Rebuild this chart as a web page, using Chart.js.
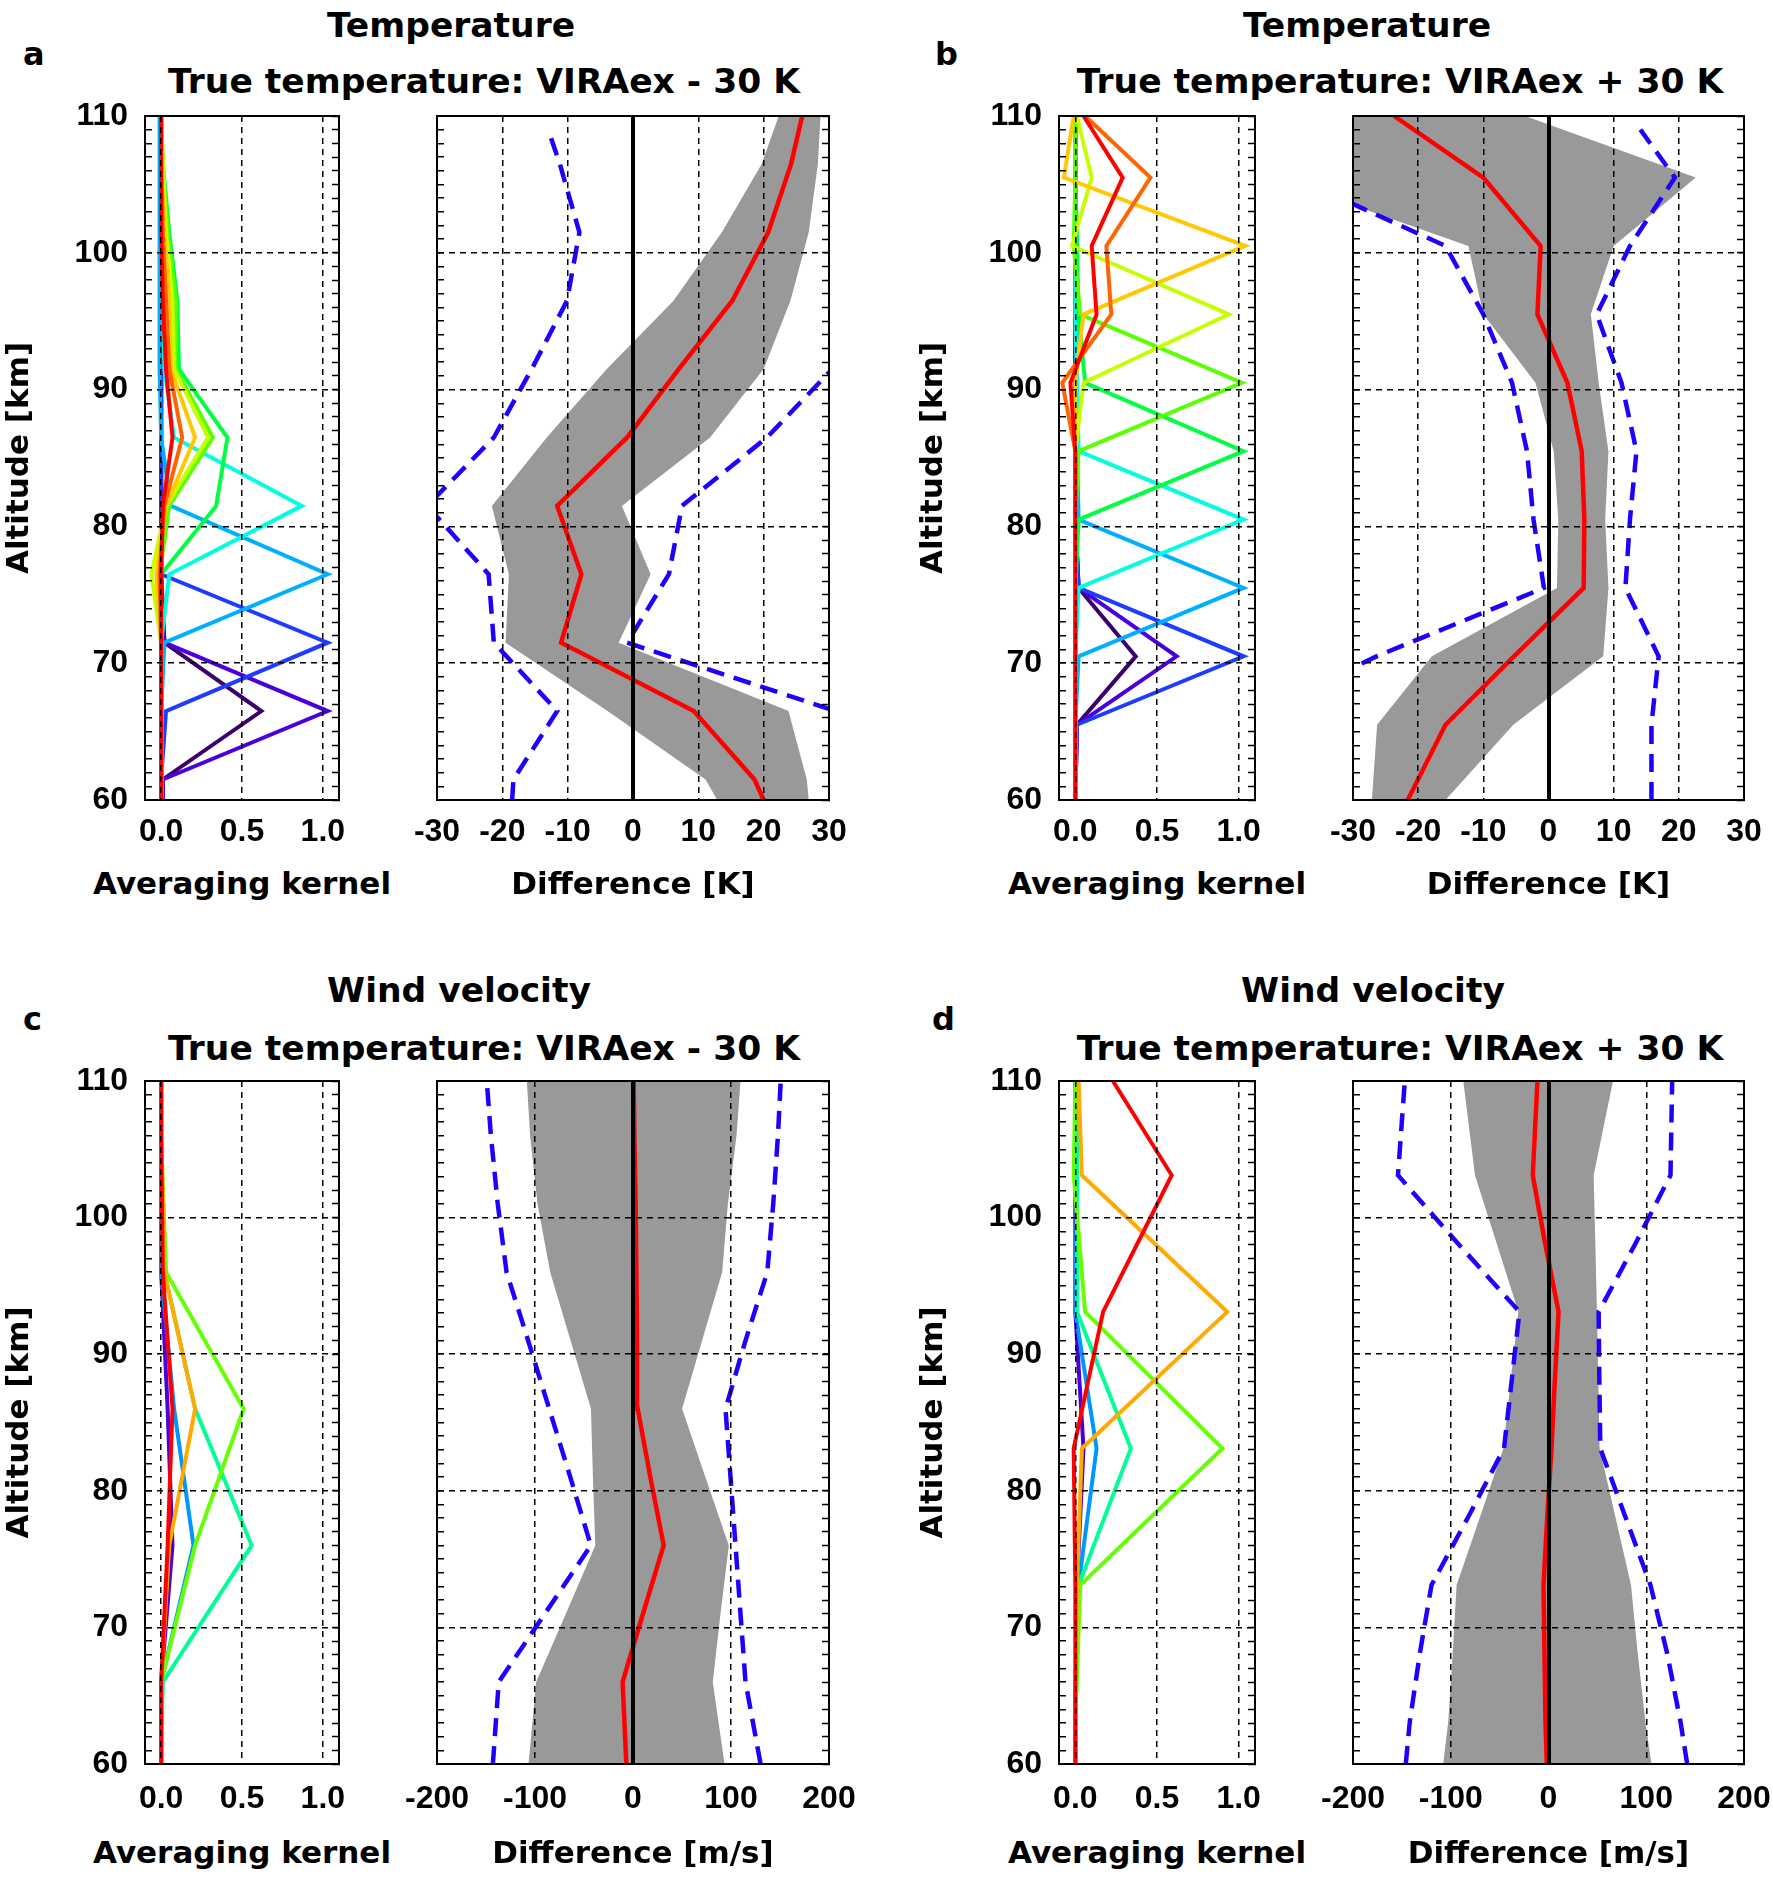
<!DOCTYPE html>
<html>
<head>
<meta charset="utf-8">
<script src="https://cdn.jsdelivr.net/npm/chart.js@4.4.1/dist/chart.umd.min.js"></script>
<style>
  html, body { margin: 0; padding: 0; background: #fff; }
  #page { position: relative; width: 1773px; height: 1878px; overflow: hidden; background: #fff; }
  canvas { position: absolute; }
  .ttl { position: absolute; font-family: 'DejaVu Sans', sans-serif; font-weight: bold; font-size: 34.5px;
         line-height: 1; white-space: nowrap; color: #000; transform: translateX(-50%); }
  .ax { position: absolute; font-family: 'DejaVu Sans', sans-serif; font-weight: bold; font-size: 31px;
        line-height: 1; white-space: nowrap; color: #000; transform: translateX(-50%); }
  .lbl { position: absolute; font-family: 'DejaVu Sans', sans-serif; font-weight: bold; font-size: 32px;
         line-height: 1; color: #000; }
</style>
</head>
<body>
<div id="page">
  <div class="lbl" style="left:23px;top:38px">a</div>
  <div class="lbl" style="left:935px;top:38px">b</div>
  <div class="lbl" style="left:23px;top:1003px">c</div>
  <div class="lbl" style="left:932px;top:1003px">d</div>
  <div class="ttl" style="left:451px;top:8px">Temperature</div>
  <div class="ttl" style="left:484px;top:64px">True temperature: VIRAex - 30 K</div>
  <div class="ttl" style="left:1367px;top:8px">Temperature</div>
  <div class="ttl" style="left:1400px;top:64px">True temperature: VIRAex + 30 K</div>
  <div class="ttl" style="left:459px;top:973px">Wind velocity</div>
  <div class="ttl" style="left:484px;top:1031px">True temperature: VIRAex - 30 K</div>
  <div class="ttl" style="left:1373px;top:973px">Wind velocity</div>
  <div class="ttl" style="left:1400px;top:1031px">True temperature: VIRAex + 30 K</div>
  <div class="ax" style="left:242px;top:868px">Averaging kernel</div>
  <div class="ax" style="left:1157px;top:868px">Averaging kernel</div>
  <div class="ax" style="left:242px;top:1837px">Averaging kernel</div>
  <div class="ax" style="left:1157px;top:1837px">Averaging kernel</div>
</div>
<script>
// ---- tick labels ----
const altTicks = [60, 70, 80, 90, 100, 110];
const kernelTicks = [0, 0.5, 1.0];
const tempTicks = [-30, -20, -10, 0, 10, 20, 30];
const windTicks = [-200, -100, 0, 100, 200];

// ---- kernel colours (low altitude -> high altitude) ----
const tempKernelColors = ['#3c006c', '#4a00dc', '#1e3cff', '#00b0ff', '#00ffe0', '#00ff40',
                          '#5aff00', '#c8ff00', '#ffc800', '#ff6400', '#ff0000'];
const windKernelColors = ['#4a00dc', '#0096ff', '#00ff96', '#64ff00', '#ffaa00', '#ff0000'];

// ---- panel a: temperature, VIRAex - 30 K ----
const altA = [60, 61.5, 66.5, 71.5, 76.5, 81.5, 86.5, 91.5, 96.5, 101.5, 106.5, 110];
const kernelsA = [
  [0.01, 0.01, 0.62, 0.02, 0.00, 0.00, 0.00, 0.00, 0.00, 0.00, 0.00, 0.00],
  [0.01, 0.01, 1.03, 0.02, 0.00, 0.00, 0.00, 0.00, 0.00, 0.00, 0.00, 0.00],
  [0.00, 0.00, 0.03, 1.03, 0.00, 0.00, 0.00, 0.00, 0.00, 0.00, 0.00, 0.00],
  [0.00, 0.00, 0.00, 0.02, 1.03, 0.06, 0.00, -0.01, -0.01, -0.01, -0.01, -0.01],
  [0.00, 0.00, 0.00, 0.00, 0.05, 0.87, 0.08, 0.02, 0.01, 0.00, 0.00, 0.00],
  [0.00, 0.00, 0.00, 0.00, 0.00, 0.34, 0.41, 0.11, 0.10, 0.05, 0.01, 0.00],
  [0.00, 0.00, 0.00, 0.00, -0.01, 0.05, 0.32, 0.09, 0.09, 0.04, 0.01, 0.00],
  [0.00, 0.00, 0.00, 0.00, -0.06, 0.03, 0.29, 0.08, 0.07, 0.03, 0.01, 0.00],
  [0.00, 0.00, 0.00, 0.00, -0.03, 0.03, 0.21, 0.06, 0.05, 0.02, 0.00, 0.00],
  [0.00, 0.00, 0.00, 0.00, -0.01, 0.02, 0.13, 0.05, 0.03, 0.01, 0.00, 0.00],
  [0.00, 0.00, 0.00, 0.00, 0.00, 0.01, 0.07, 0.03, 0.01, 0.00, 0.00, 0.00]
];
const diffA = [20.0, 18.6, 9.3, -11.0, -7.9, -11.6, -0.9, 7.0, 15.2, 20.7, 24.2, 25.9];
const bandLoA = [12.9, 11.1, -3.9, -19.5, -19.0, -21.6, -13.2, -4.0, 6.2, 13.6, 19.7, 22.3];
const bandHiA = [26.9, 26.6, 23.8, -2.2, 2.7, -1.7, 11.8, 20.0, 24.1, 26.9, 28.3, 28.7];
const blueAltA = [60, 61.5, 66.5, 71.5, 76.5, 81.5, 86.5, 91.5, 96.5, 101.5, 106.5, 108.6];
const blueLoA = [-18.5, -18.3, -11.6, -21.3, -22.1, -31.5, -21.3, -15.5, -10.1, -8.2, -11.2, -12.7];
const blueHiA = [45, 45, 31, -0.9, 5.5, 7.5, 20.5, 30.5, 45, 50, 50, 50];

// ---- panel b: temperature, VIRAex + 30 K ----
const altB = [60, 65.5, 70.5, 75.5, 80.5, 85.5, 90.5, 95.5, 100.5, 105.5, 110];
const kernelsB = [
  [0.00, 0.01, 0.37, 0.02, 0.00, 0.00, 0.00, 0.00, 0.00, 0.00, 0.00],
  [0.00, 0.01, 0.62, 0.02, 0.00, 0.00, 0.00, 0.00, 0.00, 0.00, 0.00],
  [0.00, 0.01, 1.03, 0.02, 0.00, 0.00, 0.00, 0.00, 0.00, 0.00, 0.00],
  [0.00, 0.00, 0.02, 1.03, 0.02, 0.01, 0.01, 0.01, 0.01, 0.00, 0.00],
  [0.00, 0.00, 0.00, 0.02, 1.03, 0.02, 0.01, 0.00, 0.00, 0.00, 0.00],
  [0.00, 0.00, 0.00, 0.00, 0.02, 1.03, 0.06, 0.02, 0.01, 0.00, 0.00],
  [0.00, 0.00, 0.00, 0.00, 0.00, 0.02, 1.02, 0.03, -0.01, 0.00, 0.00],
  [0.00, 0.00, 0.00, 0.00, 0.00, 0.00, 0.05, 0.94, -0.02, 0.10, 0.01],
  [0.00, 0.00, 0.00, 0.00, 0.00, 0.00, 0.00, 0.05, 1.04, -0.07, -0.01],
  [0.00, 0.00, 0.00, 0.00, 0.00, 0.00, -0.08, 0.22, 0.19, 0.46, 0.06],
  [0.00, 0.00, 0.00, 0.00, 0.00, 0.00, -0.03, 0.13, 0.10, 0.29, 0.05]
];
const diffB = [-21.6, -15.8, -5.3, 5.4, 5.5, 5.1, 2.9, -1.7, -1.2, -10.0, -23.7];
const bandLoB = [-27.1, -26.3, -17.9, 1.3, 1.5, 0.8, -2.0, -10.0, -12.3, -42, -45];
const bandHiB = [-15.8, -5.4, 8.4, 9.2, 8.7, 9.2, 7.7, 6.5, 10.0, 22.6, -3.6];
const blueLoAltB = [65.5, 70.5, 75.5, 80.5, 85.5, 90.5, 95.5, 100.5, 105.5];
const blueLoB = [-48, -26.4, -0.7, -2.3, -3.3, -5.6, -10.0, -15.8, -39];
const blueHiAltB = [60, 65.5, 70.5, 75.5, 80.5, 85.5, 90.5, 95.5, 100.5, 105.5, 109];
const blueHiB = [15.8, 15.8, 16.9, 11.8, 12.5, 13.5, 11.2, 7.4, 12.5, 19.4, 14.1];

// ---- panel c: wind, VIRAex - 30 K ----
const altC = [60, 66, 76, 86, 96, 106, 110];
const kernelsC = [
  [0.00, 0.00, 0.07, 0.04, 0.00, 0.00, 0.00],
  [0.00, 0.00, 0.20, 0.08, 0.00, 0.00, 0.00],
  [0.00, 0.01, 0.56, 0.21, 0.02, 0.00, 0.00],
  [0.00, 0.00, 0.21, 0.51, 0.03, 0.00, 0.00],
  [0.00, 0.00, 0.05, 0.21, 0.02, 0.00, 0.00],
  [0.00, 0.00, 0.04, 0.07, 0.01, 0.00, 0.00]
];
const altCd = [60, 66, 71, 76, 81, 86, 91, 96, 101, 106, 110];
const diffC = [-6.8, -10.6, 10.2, 31.3, 17.7, 4.8, 4.1, 3.4, 2.7, 1.4, 0.7];
const bandLoC = [-106.6, -98.8, -68.5, -38.5, -40.9, -42.9, -63.7, -84.5, -97.4, -105, -108.3];
const bandHiC = [93.4, 81.4, 89.3, 97.8, 73.9, 50.1, 70.5, 91.0, 96.8, 105.6, 109.7];
const blueAltC = [60, 66, 71, 76, 81, 86, 91, 96, 101, 106, 109.8];
const blueLoC = [-143, -137, -90, -43, -64, -85.5, -107, -129, -138, -145, -149];
const blueHiC = [130.2, 114.8, 109.7, 104.6, 99.5, 94.4, 114.8, 137, 143.1, 147.9, 150.6];

// ---- panel d: wind, VIRAex + 30 K ----
const altD = [60, 63.1, 73.1, 83.1, 93.1, 103.1, 110];
const kernelsD = [
  [0.00, 0.00, 0.01, 0.05, 0.00, 0.00, 0.00],
  [0.00, 0.00, 0.02, 0.13, 0.00, 0.01, 0.01],
  [0.00, 0.00, 0.02, 0.34, 0.01, 0.01, 0.01],
  [0.00, 0.00, 0.03, 0.90, 0.06, -0.01, 0.00],
  [0.00, 0.00, 0.01, 0.04, 0.93, 0.04, 0.02],
  [0.00, 0.00, 0.00, -0.01, 0.17, 0.59, 0.23]
];
const altDd = [60, 63.1, 68.1, 73.1, 78.1, 83.1, 88.1, 93.1, 98.1, 103.1, 110];
const diffD = [-1.7, -3.1, -4.1, -5.1, -1.3, 3.1, 6.5, 10.3, -3.4, -16.1, -11.3];
const bandLoD = [-107.7, -102.6, -98, -94, -70, -46.2, -38.6, -30.8, -53, -75.2, -87.2];
const bandHiD = [105.3, 99.1, 91.3, 84.4, 68.4, 52.3, 50.9, 49.6, 47.9, 46.2, 66];
const blueLoD = [-146, -141.9, -131.6, -119.7, -82, -45.5, -37.6, -29.7, -92.6, -154, -147];
const blueHiD = [141.9, 135, 121.4, 104.3, 78.6, 53, 52, 51.3, 89, 124.8, 126.5];

// ---- layout (plot boxes in page pixels) ----
const cols = { kL: {l: 145, r: 339}, dL: {l: 437, r: 829}, kR: {l: 1059, r: 1255}, dR: {l: 1353, r: 1744} };
const rows = { top: {t: 116, b: 800, tickPad: 12.5, titlePad: 5},
               bot: {t: 1081, b: 1764, tickPad: 15.5, titlePad: 0} };

const tickFont = {family: "'Liberation Sans', Arial, sans-serif", weight: 'bold', size: 32, lineHeight: 1.2};
const axisFont = {family: "'DejaVu Sans', sans-serif", weight: 'bold', size: 31, lineHeight: 1.2};
const altMinor = [];
for (let a = 60; a <= 110; a++) altMinor.push(a);

function pts(xs, ys) {
  return xs.map((v, i) => ({x: v, y: ys[i]}));
}

function kernelSets(kernels, alts, colors) {
  return kernels.map((k, i) => ({
    data: pts(k, alts), borderColor: colors[i], borderWidth: 4, order: 30 - i
  }));
}

function diffSets(alt, lo, hi, red, bAltLo, bLo, bAltHi, bHi) {
  return [
    {data: pts(lo, alt), borderWidth: 0, borderColor: 'rgba(0,0,0,0)', order: 20},
    {data: pts(hi, alt), borderWidth: 0, borderColor: 'rgba(0,0,0,0)', backgroundColor: '#999999',
     fill: '-1', order: 19},
    {data: pts(bLo, bAltLo), borderColor: '#1e00ff', borderWidth: 4.5, borderDash: [18, 10], order: 5},
    {data: pts(bHi, bAltHi), borderColor: '#1e00ff', borderWidth: 4.5, borderDash: [18, 10], order: 5},
    {data: pts(red, alt), borderColor: '#ff0000', borderWidth: 4.5, order: 1}
  ];
}

function makePlot(col, row, spec) {
  const kernel = spec.kernel;
  const mL = kernel ? 145 : 50, mR = kernel ? 30 : 50, mT = 50, mB = 110;
  const cv = document.createElement('canvas');
  cv.width = mL + (col.r - col.l) + mR;
  cv.height = mT + (row.b - row.t) + mB;
  cv.style.left = (col.l - mL) + 'px';
  cv.style.top = (row.t - mT) + 'px';
  cv.style.width = cv.width + 'px';
  cv.style.height = cv.height + 'px';
  document.getElementById('page').appendChild(cv);

  const xMin = spec.xTicks[0], xMax = spec.xTicks[spec.xTicks.length - 1];
  const lo = kernel ? -0.1 : xMin, hi = kernel ? 1.1 : xMax;
  const isZero = c => !kernel && c.tick && c.tick.value === 0;
  const innerX = c => c.tick && c.tick.value > lo && c.tick.value < hi;
  const innerY = c => c.tick && altTicks.includes(c.tick.value) && c.tick.value > 60 && c.tick.value < 110;

  return new Chart(cv, {
    type: 'line',
    data: {datasets: spec.datasets},
    options: {
      indexAxis: 'y',
      responsive: false,
      animation: false,
      events: [],
      layout: {padding: {left: kernel ? 0 : mL, right: mR, top: mT, bottom: 0}},
      elements: {point: {radius: 0}, line: {tension: 0, borderJoinStyle: 'miter', fill: false}},
      plugins: {legend: {display: false}, tooltip: {enabled: false}},
      scales: {
        x: {
          type: 'linear', position: 'bottom', min: lo, max: hi,
          afterBuildTicks: s => { s.ticks = spec.xTicks.map(v => ({value: v})); },
          afterFit: s => { s.height = mB; },
          ticks: {autoSkip: false, maxRotation: 0, minRotation: 0, padding: row.tickPad, color: '#000',
                  font: tickFont, callback: v => kernel ? v.toFixed(1) : String(v)},
          grid: {z: 1, drawTicks: false, color: c => innerX(c) ? '#000' : 'rgba(0,0,0,0)',
                 lineWidth: c => isZero(c) ? 4 : 1.5},
          border: {display: true, color: '#000', width: 2, z: 2, dash: c => isZero(c) ? [] : [6, 5]},
          title: {display: !kernel, text: spec.xTitle, color: '#000', font: axisFont,
                  padding: {top: 0, bottom: row.titlePad}}
        },
        xT: {
          type: 'linear', axis: 'x', position: 'top', min: lo, max: hi,
          afterFit: s => { s.height = 0; },
          ticks: {display: false},
          grid: {display: false},
          border: {display: true, color: '#000', width: 2, z: 2}
        },
        y: {
          type: 'linear', position: 'left', min: 60, max: 110,
          afterBuildTicks: s => { s.ticks = altMinor.map(v => ({value: v})); },
          afterFit: s => { s.width = kernel ? mL : 0; },
          ticks: {display: kernel, autoSkip: false, padding: 24, color: '#000', font: tickFont,
                  callback: v => altTicks.includes(v) ? String(v) : ''},
          grid: {z: 1, drawTicks: true, tickLength: -7, tickWidth: 1.5, tickColor: '#000', lineWidth: 1.5,
                 color: c => innerY(c) ? '#000' : 'rgba(0,0,0,0)'},
          border: {display: true, color: '#000', width: 2, z: 2, dash: [6, 5]},
          title: {display: kernel, text: 'Altitude [km]', color: '#000', font: axisFont,
                  padding: {top: 1, bottom: 0}}
        },
        yR: {
          type: 'linear', axis: 'y', position: 'right', min: 60, max: 110,
          afterBuildTicks: s => { s.ticks = altMinor.map(v => ({value: v})); },
          afterFit: s => { s.width = 0; },
          ticks: {display: false, autoSkip: false},
          grid: {z: 1, drawOnChartArea: false, drawTicks: true, tickLength: -7, tickWidth: 1.5, tickColor: '#000'},
          border: {display: true, color: '#000', width: 2, z: 2}
        }
      }
    }
  });
}

makePlot(cols.kL, rows.top, {kernel: true, xTicks: kernelTicks, xTitle: 'Averaging kernel',
  datasets: kernelSets(kernelsA, altA, tempKernelColors)});
makePlot(cols.dL, rows.top, {kernel: false, xTicks: tempTicks, xTitle: 'Difference [K]',
  datasets: diffSets(altA, bandLoA, bandHiA, diffA, blueAltA, blueLoA, blueAltA, blueHiA)});
makePlot(cols.kR, rows.top, {kernel: true, xTicks: kernelTicks, xTitle: 'Averaging kernel',
  datasets: kernelSets(kernelsB, altB, tempKernelColors)});
makePlot(cols.dR, rows.top, {kernel: false, xTicks: tempTicks, xTitle: 'Difference [K]',
  datasets: diffSets(altB, bandLoB, bandHiB, diffB, blueLoAltB, blueLoB, blueHiAltB, blueHiB)});

makePlot(cols.kL, rows.bot, {kernel: true, xTicks: kernelTicks, xTitle: 'Averaging kernel',
  datasets: kernelSets(kernelsC, altC, windKernelColors)});
makePlot(cols.dL, rows.bot, {kernel: false, xTicks: windTicks, xTitle: 'Difference [m/s]',
  datasets: diffSets(altCd, bandLoC, bandHiC, diffC, blueAltC, blueLoC, blueAltC, blueHiC)});
makePlot(cols.kR, rows.bot, {kernel: true, xTicks: kernelTicks, xTitle: 'Averaging kernel',
  datasets: kernelSets(kernelsD, altD, windKernelColors)});
makePlot(cols.dR, rows.bot, {kernel: false, xTicks: windTicks, xTitle: 'Difference [m/s]',
  datasets: diffSets(altDd, bandLoD, bandHiD, diffD, altDd, blueLoD, altDd, blueHiD)});
</script>
</body>
</html>
